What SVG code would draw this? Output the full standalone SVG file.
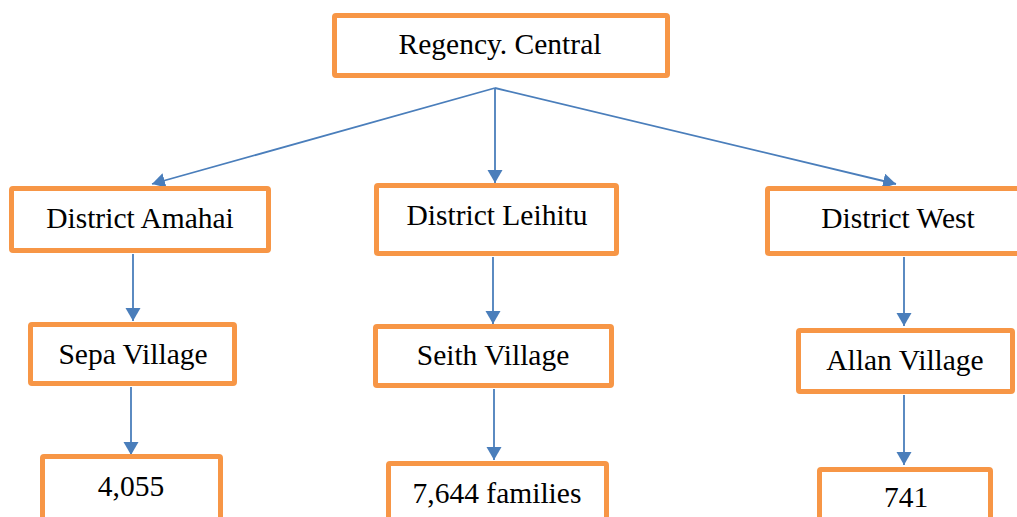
<svg xmlns="http://www.w3.org/2000/svg" width="1017" height="517" viewBox="0 0 1017 517">
<style>
.box{fill:#fff;stroke:#F79646;stroke-width:5}
.lbl{font-family:'Liberation Serif','Times New Roman','DejaVu Serif',serif;font-size:29.5px;fill:#000;text-anchor:middle}
.con{stroke:#4A7EBB;stroke-width:1.8;fill:none}
</style>
<defs>
<marker id="ah" markerUnits="userSpaceOnUse" markerWidth="14" markerHeight="16" refX="13" refY="7.5" orient="auto">
<path d="M0,0 L13,7.5 L0,15 z" fill="#4A7EBB"/>
</marker>
</defs>
<rect width="1017" height="517" fill="#fff"/>
<g id="connectors">
<line class="con" x1="495" y1="88" x2="152" y2="184" marker-end="url(#ah)"/>
<line class="con" x1="495" y1="88" x2="495" y2="183" marker-end="url(#ah)"/>
<line class="con" x1="495" y1="88" x2="896" y2="184" marker-end="url(#ah)"/>
<line class="con" x1="133" y1="254" x2="133" y2="321" marker-end="url(#ah)"/>
<line class="con" x1="493" y1="257" x2="493" y2="324" marker-end="url(#ah)"/>
<line class="con" x1="904" y1="257" x2="904" y2="326" marker-end="url(#ah)"/>
<line class="con" x1="131" y1="387" x2="131" y2="455" marker-end="url(#ah)"/>
<line class="con" x1="494" y1="389" x2="494" y2="460" marker-end="url(#ah)"/>
<line class="con" x1="904" y1="395" x2="904" y2="465" marker-end="url(#ah)"/>
</g>
<g id="root"><rect class="box" x="334.5" y="15.5" width="333" height="60" rx="1.5"/><text class="lbl" x="500" y="54">Regency. Central</text></g>
<g id="amahai"><rect class="box" x="11.5" y="188.5" width="257" height="62" rx="1.5"/><text class="lbl" x="140" y="228">District Amahai</text></g>
<g id="leihitu"><rect class="box" x="376.5" y="185.5" width="240" height="68" rx="1.5"/><text class="lbl" x="497" y="225">District Leihitu</text></g>
<g id="west"><rect class="box" x="767.5" y="188.5" width="262" height="65" rx="1.5"/><text class="lbl" x="898" y="228">District West</text></g>
<g id="sepa"><rect class="box" x="30.5" y="324.5" width="204" height="59" rx="1.5"/><text class="lbl" x="133" y="364">Sepa Village</text></g>
<g id="seith"><rect class="box" x="375.5" y="326.5" width="236" height="59" rx="1.5"/><text class="lbl" x="493" y="365">Seith Village</text></g>
<g id="allan"><rect class="box" x="798.5" y="330.5" width="214" height="61" rx="1.5"/><text class="lbl" x="905" y="370">Allan Village</text></g>
<g id="n4055"><rect class="box" x="42.5" y="456.5" width="178" height="70" rx="1.5"/><text class="lbl" x="131" y="496">4,055</text></g>
<g id="n7644"><rect class="box" x="388.5" y="463.5" width="218" height="70" rx="1.5"/><text class="lbl" x="497" y="503">7,644 families</text></g>
<g id="n741"><rect class="box" x="819.5" y="469.5" width="171" height="70" rx="1.5"/><text class="lbl" x="906" y="507">741</text></g>
</svg>
